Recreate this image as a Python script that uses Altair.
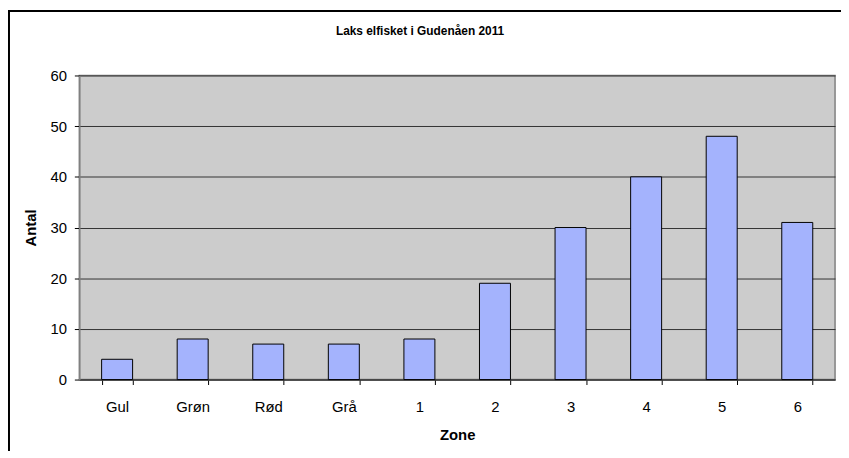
import altair as alt
import pandas as pd

zones = ["Gul", "Grøn", "Rød", "Grå", "1", "2", "3", "4", "5", "6"]
counts = [4, 8, 7, 7, 8, 19, 30, 40, 48, 31]
title_text = "Laks elfisket i Gudenåen 2011"

df = pd.DataFrame({"Zone": zones, "Antal": counts})
FONT = "Liberation Sans"
W, H = 763, 307

bars = alt.Chart(df).mark_bar(
    color="#A4B3FD", stroke="#000000", strokeWidth=1
).encode(
    x=alt.X("Zone:N", sort=zones, title="Zone",
            scale=alt.Scale(paddingInner=0.59, paddingOuter=0.295),
            axis=alt.Axis(labelAngle=0, tickBand="extent", labelFontSize=15,
                          labelFont=FONT, labelColor="#000", labelPadding=15,
                          tickSize=5, tickColor="#000", domainColor="#404040",
                          domainWidth=1.5, titleFont=FONT, titleFontSize=15,
                          titleFontWeight="bold", titleColor="#000",
                          titlePadding=14, grid=False)),
    y=alt.Y("Antal:Q", title="Antal",
            scale=alt.Scale(domain=[0, 60], nice=False),
            axis=alt.Axis(values=[0, 10, 20, 30, 40, 50, 60], labelFontSize=15,
                          labelFont=FONT, labelColor="#000", labelPadding=8,
                          tickSize=5, tickColor="#000", domainColor="#808080",
                          domainWidth=1.5, grid=True, gridColor="#333333",
                          gridWidth=1, titleFont=FONT, titleFontSize=15,
                          titleFontWeight="bold", titleColor="#000",
                          titlePadding=12)),
)

title = alt.Chart(pd.DataFrame({"t": [title_text]})).mark_text(
    font=FONT, fontSize=12, fontWeight="bold", color="#000", baseline="middle"
).encode(text="t:N", x=alt.value(344), y=alt.value(-45))

frame_df = pd.DataFrame({"a": [0]})
frame_v = alt.Chart(frame_df).mark_rule(color="#000", strokeWidth=2).encode(
    x=alt.value(-71), y=alt.value(-65), y2=alt.value(H + 80))
frame_h = alt.Chart(frame_df).mark_rule(color="#000", strokeWidth=2).encode(
    x=alt.value(-72), x2=alt.value(W + 20), y=alt.value(-65))

chart = alt.layer(bars, title, frame_v, frame_h).properties(
    width=W, height=H,
    autosize=alt.AutoSizeParams(type="none"),
    padding={"left": 72, "top": 66, "right": 6, "bottom": 70},
    background="white",
).configure_view(
    fill="#CCCCCC", stroke="#808080", strokeWidth=1.5
)

chart.save("out.html", embed_options={"renderer": "svg", "actions": False})
